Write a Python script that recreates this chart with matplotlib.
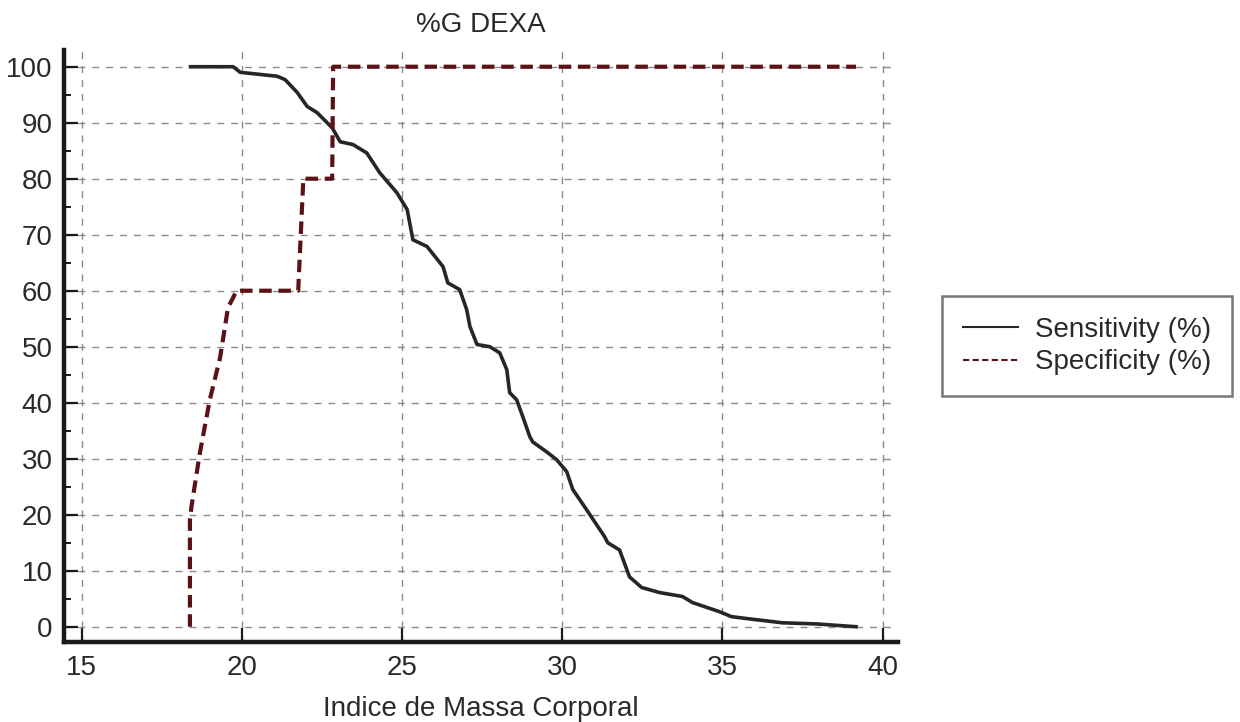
import matplotlib
matplotlib.use("Agg")
import matplotlib.pyplot as plt
from matplotlib.ticker import MultipleLocator

plt.rcParams['font.family'] = ['Liberation Sans', 'DejaVu Sans']

# Sensitivity curve (BMI, %)
sens_x = [18.40, 19.73, 19.95, 21.10, 21.35, 21.73, 22.04, 22.35, 22.82, 23.07,
          23.47, 23.90, 24.30, 24.84, 25.16, 25.34, 25.78, 26.28, 26.43, 26.80,
          27.02, 27.12, 27.34, 27.74, 28.05, 28.27, 28.36, 28.58, 28.77, 28.99,
          29.08, 29.52, 29.83, 30.14, 30.33, 30.76, 31.32, 31.42, 31.79, 32.10,
          32.48, 33.04, 33.75, 34.07, 34.90, 35.28, 35.84, 36.87, 37.93, 39.17]
sens_y = [100.0, 100.0, 99.0, 98.3, 97.7, 95.4, 92.9, 91.8, 89.1, 86.6,
          86.1, 84.6, 81.1, 77.5, 74.5, 69.1, 67.9, 64.3, 61.4, 60.2,
          56.6, 53.6, 50.4, 50.0, 48.9, 45.9, 41.8, 40.5, 37.5, 33.9,
          33.0, 31.2, 29.8, 27.7, 24.5, 20.9, 16.1, 15.0, 13.7, 8.9,
          7.0, 6.1, 5.4, 4.3, 2.7, 1.8, 1.4, 0.7, 0.5, 0.0]

# Specificity curve (BMI, %)
spec_x = [18.38, 18.38, 18.43, 18.69, 19.00, 19.32, 19.57, 19.84, 21.76,
          21.92, 22.82, 22.85, 39.17]
spec_y = [0.0, 19.0, 21.5, 31.0, 40.5, 48.0, 57.0, 60.0, 60.0,
          80.0, 80.0, 100.0, 100.0]

x_ticks = [15, 20, 25, 30, 35, 40]
y_ticks = [0, 10, 20, 30, 40, 50, 60, 70, 80, 90, 100]

title = "%G DEXA"
xlabel = "Indice de Massa Corporal"
labels = ["Sensitivity (%)", "Specificity (%)"]

fig = plt.figure(figsize=(12.4, 7.22), dpi=100)
ax = fig.add_axes([0.0516, 0.1108, 0.6726, 0.8199])

txt = '#2a2a2a'
fs = 20
ax.plot(sens_x, sens_y, color='#262626', lw=2.6, label=labels[0], zorder=3)
ax.plot(spec_x, spec_y, color='#5a1216', lw=3.0, ls=(0, (3.0, 1.6)),
        label=labels[1], zorder=3)

ax.set_xlim(14.45, 40.48)
ax.set_ylim(-2.73, 102.98)
ax.set_xticks(x_ticks)
ax.set_yticks(y_ticks)
ax.yaxis.set_minor_locator(MultipleLocator(5))

for s in ['top', 'right']:
    ax.spines[s].set_visible(False)
for s in ['left', 'bottom']:
    ax.spines[s].set_linewidth(3.2)
    ax.spines[s].set_color('#1a1a1a')

ax.tick_params(axis='both', which='major', direction='in', length=10, width=1.6,
               color='#1a1a1a', labelsize=fs, labelcolor=txt)
ax.tick_params(axis='y', which='major', pad=8)
ax.tick_params(axis='x', which='major', pad=9)
ax.tick_params(axis='y', which='minor', direction='in', length=5, width=1.4,
               color='#1a1a1a')

ax.grid(True, which='major', color='#8a8a8a', lw=1.0, ls=(0, (5, 5)))
ax.set_axisbelow(True)

ax.set_title(title, fontsize=fs, color=txt, pad=13)
ax.set_xlabel(xlabel, fontsize=fs, color=txt, labelpad=11)

leg = fig.legend(loc='center left', bbox_to_anchor=(0.7597, 0.5208),
                 fontsize=fs, frameon=True, fancybox=False, edgecolor='#555555',
                 handlelength=2.0, handletextpad=0.6, labelspacing=0.25,
                 borderpad=0.75, borderaxespad=0)
leg.get_frame().set_linewidth(1.8)
for t in leg.get_texts():
    t.set_color(txt)
for h in leg.get_lines():
    h.set_linewidth(1.5)

fig.savefig("out.png", dpi=100)
